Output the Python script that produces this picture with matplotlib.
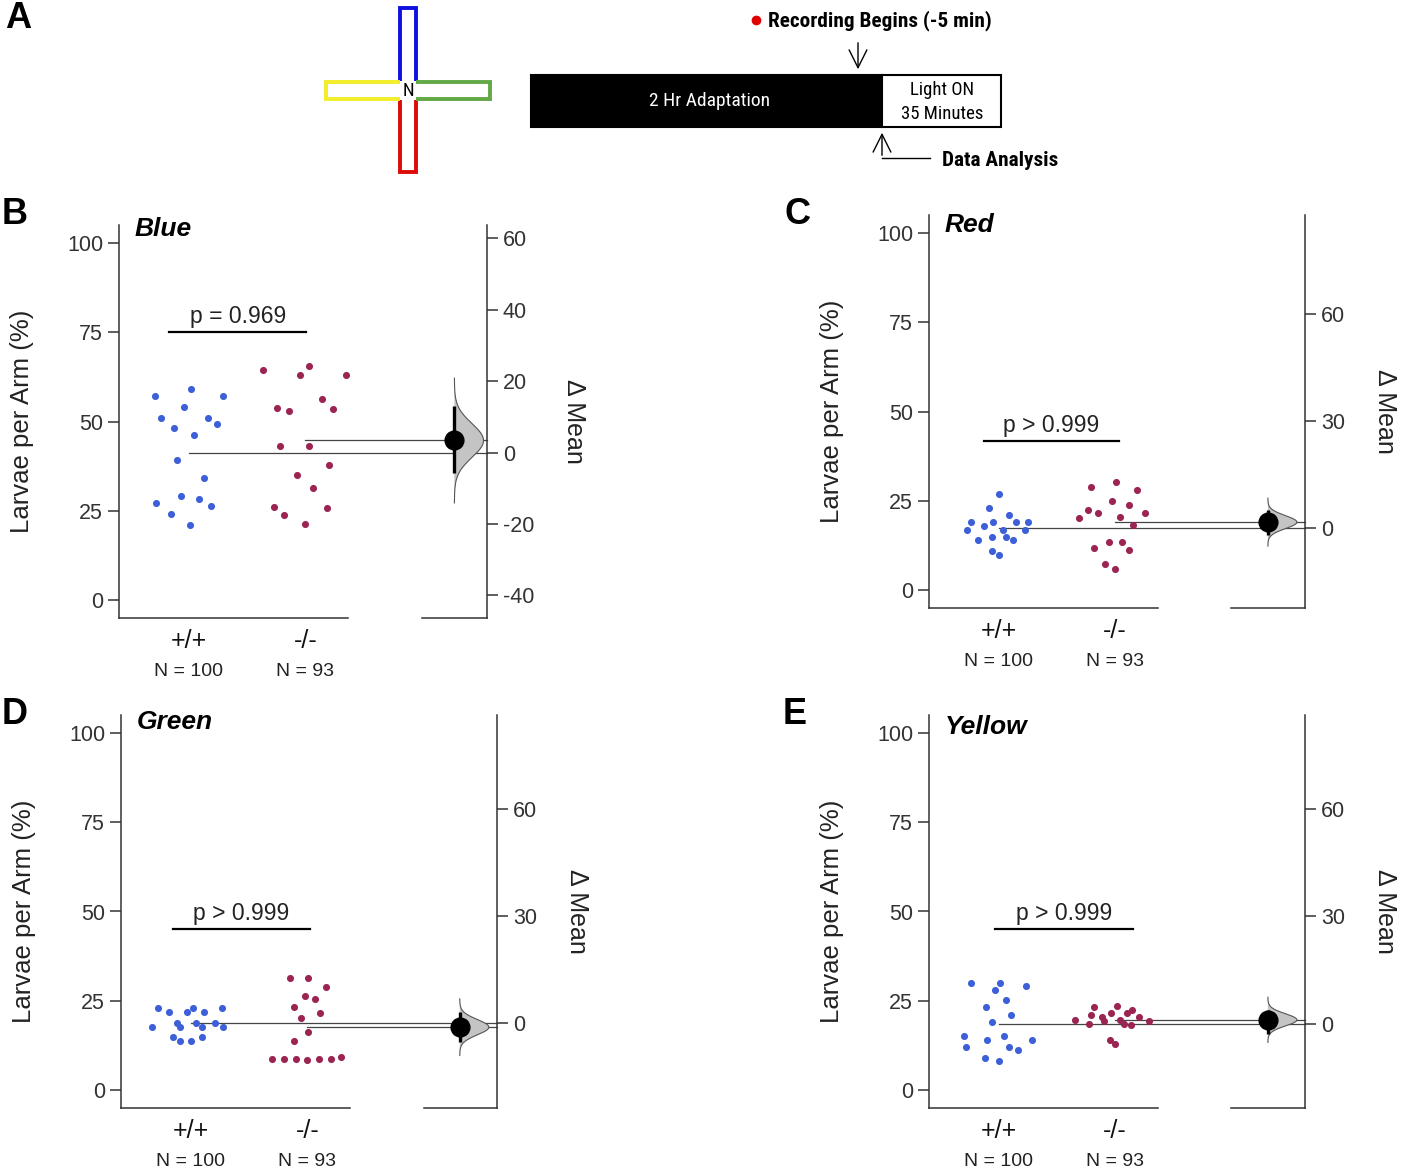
import matplotlib
matplotlib.use('Agg')
import matplotlib.pyplot as plt
import numpy as np
from matplotlib import font_manager as fm
from matplotlib.patches import Rectangle

W, H, DPI = 1404, 1174, 100

available = {f.name for f in fm.fontManager.ttflist}
SANS = 'Liberation Sans' if 'Liberation Sans' in available else 'DejaVu Sans'
NARROW = next((f for f in ['Liberation Sans Narrow', 'DejaVu Sans Condensed', 'Roboto Condensed']
               if f in available), SANS)
plt.rcParams['font.family'] = [SANS, 'DejaVu Sans']
plt.rcParams['axes.unicode_minus'] = False

# ---------------- data ----------------
groups = ['+/+', '-/-']
group_n = ['N = 100', 'N = 93']
arm_titles = ['Blue', 'Red', 'Green', 'Yellow']
p_labels = ['p = 0.969', 'p > 0.999', 'p > 0.999', 'p > 0.999']
p_bar_y = [75.0, 41.7, 45.1, 45.0]

blue_wt = [57.1, 59.0, 57.1, 54.1, 51.1, 51.1, 49.2, 48.1, 46.2, 39.1, 34.2, 29.1, 27.2, 28.2, 26.3, 24.2, 21.0]
blue_mut = [64.3, 65.4, 63.0, 63.0, 56.2, 53.8, 52.8, 53.5, 43.2, 43.2, 37.9, 35.0, 31.4, 26.1, 25.7, 23.7, 21.4]
red_wt = [27.0, 23.1, 20.9, 19.0, 19.0, 19.0, 19.0, 17.9, 16.9, 16.9, 16.9, 14.9, 14.9, 13.9, 13.9, 10.9, 9.9]
red_mut = [29.0, 30.2, 28.0, 25.0, 23.7, 22.5, 21.6, 21.6, 20.3, 20.4, 18.2, 13.5, 13.5, 11.7, 11.2, 7.2, 6.0]
green_wt = [22.9, 21.9, 21.9, 22.9, 21.9, 22.9, 17.7, 18.9, 17.7, 18.9, 17.7, 18.9, 17.7, 14.8, 13.8, 13.8, 14.8]
green_mut = [31.3, 31.5, 29.0, 26.4, 25.6, 23.2, 21.5, 20.1, 16.2, 13.7, 8.7, 8.6, 8.7, 8.4, 8.7, 8.6, 9.3]
yellow_wt = [30.1, 30.1, 28.0, 29.1, 25.1, 23.2, 21.0, 19.0, 15.1, 14.1, 15.1, 14.1, 12.1, 12.1, 11.1, 9.1, 8.1]
yellow_mut = [23.3, 23.5, 22.4, 20.9, 21.7, 21.5, 20.5, 20.6, 19.6, 19.3, 19.6, 19.4, 18.4, 18.5, 18.2, 14.1, 13.0]

# 95% CI of the mean difference (Δ Mean), per arm
delta_ci_low = [-5.6, -2.0, -5.3, -2.8]
delta_ci_high = [12.9, 5.1, 3.1, 3.9]

# right-axis ticks
right_ticks = [[-40, -20, 0, 20, 40, 60], [0, 30, 60], [0, 30, 60], [0, 30, 60]]

# horizontal swarm offsets (group units)
blue_wt_jit = [-0.29, 0.02, 0.29, -0.04, -0.24, 0.16, 0.24, -0.13, 0.04, -0.10, 0.13, -0.07, -0.28, 0.09, 0.19, -0.15, 0.01]
blue_mut_jit = [-0.36, 0.03, -0.05, 0.35, 0.14, -0.24, -0.14, 0.24, -0.22, 0.03, 0.20, -0.07, 0.07, -0.27, 0.19, -0.18, 0.00]
red_wt_jit = [0.00, -0.08, 0.09, -0.24, -0.05, 0.15, 0.25, -0.13, -0.27, 0.04, 0.23, -0.06, 0.06, -0.18, 0.12, -0.06, 0.00]
red_mut_jit = [-0.20, 0.01, 0.19, -0.02, 0.12, -0.23, -0.14, 0.26, -0.31, 0.05, 0.16, -0.05, 0.06, -0.18, 0.12, -0.08, 0.00]
green_wt_jit = [-0.28, -0.19, -0.03, 0.02, 0.11, 0.27, -0.33, -0.12, -0.09, 0.04, 0.10, 0.21, 0.28, -0.15, -0.09, 0.00, 0.10]
green_mut_jit = [-0.15, 0.01, 0.16, -0.02, 0.07, -0.11, 0.11, -0.05, 0.01, -0.11, -0.30, -0.20, -0.10, 0.00, 0.10, 0.20, 0.29]
yellow_wt_jit = [-0.24, 0.01, -0.03, 0.24, 0.06, -0.11, 0.11, -0.06, -0.30, -0.10, 0.05, 0.29, -0.28, 0.09, 0.17, -0.12, 0.00]
yellow_mut_jit = [-0.18, 0.02, 0.15, -0.20, -0.03, 0.11, -0.11, 0.21, -0.34, -0.09, 0.05, 0.30, -0.22, 0.08, 0.14, -0.04, 0.00]

# ---------------- styles / layout ----------------
WT_COLOR = '#3d5fd8'
MUT_COLOR = '#9b2453'
AX_COLOR = '#333333'
TXT_COLOR = '#333333'

fig = plt.figure(figsize=(W / DPI, H / DPI), dpi=DPI)

# overlay for panel A and panel letters (pixel coordinates)
ov = fig.add_axes([0, 0, 1, 1])
ov.set_xlim(0, W)
ov.set_ylim(H, 0)
ov.axis('off')

# ---- Panel A ----
def arm(xs, ys, color):
    ov.plot(xs, ys, color=color, lw=2.8, solid_joinstyle='miter', solid_capstyle='butt')

arm([400, 400, 416, 416], [81, 8, 8, 81], '#1010e0')        # blue (top)
arm([400, 400, 416, 416], [100, 172, 172, 100], '#dd0a0a')  # red (bottom)
arm([400, 326, 326, 400], [82, 82, 99, 99], '#f2ee2a')      # yellow (left)
arm([416, 490, 490, 416], [82, 82, 99, 99], '#62a845')      # green (right)
ov.text(408, 91, 'N', ha='center', va='center', fontsize=13.5, family=[NARROW, SANS])

ov.add_patch(Rectangle((531, 75), 351, 52, facecolor='black', edgecolor='black', lw=1.5))
ov.add_patch(Rectangle((882, 75), 119, 52, facecolor='white', edgecolor='black', lw=1.5))
ov.text(710, 101, '2 Hr Adaptation', color='white', ha='center', va='center', fontsize=14,
        family=[NARROW, SANS])
ov.text(942, 90, 'Light ON', ha='center', va='center', fontsize=13.5, family=[NARROW, SANS])
ov.text(942, 114, '35 Minutes', ha='center', va='center', fontsize=13.5, family=[NARROW, SANS])
ov.plot([756], [20], 'o', color='#e00000', ms=6)
ov.text(768, 21, 'Recording Begins (-5 min)', ha='left', va='center', fontsize=15.3,
        fontweight='bold', family=[NARROW, SANS])
ov.annotate('', xy=(858, 72), xytext=(858, 40),
            arrowprops=dict(arrowstyle='->', lw=1.0, color='black', mutation_scale=32))
ov.annotate('', xy=(882, 130), xytext=(882, 158),
            arrowprops=dict(arrowstyle='->', lw=1.0, color='black', mutation_scale=32))
ov.plot([882, 930], [158, 158], color='black', lw=1.0)
ov.text(942, 160, 'Data Analysis', ha='left', va='center', fontsize=15.3,
        fontweight='bold', family=[NARROW, SANS])

# panel letters
for letter, (lx, ly) in zip(['A', 'B', 'C', 'D', 'E'],
                            [(18, 18), (15, 215), (797, 215), (15, 715), (795, 715)]):
    fig.text(lx / W, 1 - ly / H, letter, ha='center', va='center', fontsize=26, fontweight='bold')


def px_rect(l, r, t, b):
    return [l / W, 1 - b / H, (r - l) / W, (b - t) / H]


panel_rects = [(119, 487, 225, 618), (929, 1305, 215, 608), (121, 497, 715, 1108), (929, 1305, 715, 1108)]
panel_xmax = [2.56, 2.64, 2.63, 2.64]
delta_xpos = [2.28, 2.32, 2.31, 2.32]
p_bar_x = [(-0.17, 1.01), (-0.13, 1.04), (-0.15, 1.02), (-0.03, 1.16)]
title_y = [0.99, 0.975, 0.982, 0.969]

data_wt = [blue_wt, red_wt, green_wt, yellow_wt]
data_mut = [blue_mut, red_mut, green_mut, yellow_mut]
jit_wt = [blue_wt_jit, red_wt_jit, green_wt_jit, yellow_wt_jit]
jit_mut = [blue_mut_jit, red_mut_jit, green_mut_jit, yellow_mut_jit]

YLIM = (-5, 105)
XMIN = -0.6

for i in range(4):
    ax = fig.add_axes(px_rect(*panel_rects[i]))
    ax.patch.set_alpha(0)
    xmax = panel_xmax[i]
    ax.set_xlim(XMIN, xmax)
    ax.set_ylim(*YLIM)
    wt = np.array(data_wt[i])
    mut = np.array(data_mut[i])
    wt_mean, mut_mean = wt.mean(), mut.mean()
    delta = mut_mean - wt_mean

    ax.scatter(0 + np.array(jit_wt[i]), wt, s=26, color=WT_COLOR, zorder=3, linewidths=0)
    ax.scatter(1 + np.array(jit_mut[i]), mut, s=26, color=MUT_COLOR, zorder=3, linewidths=0)

    # mean lines to delta axis
    ax.plot([0, xmax], [wt_mean, wt_mean], color='#444444', lw=0.9, zorder=2, clip_on=False)
    ax.plot([1, xmax], [mut_mean, mut_mean], color='#444444', lw=0.9, zorder=2, clip_on=False)

    # p-value bar
    bx0, bx1 = p_bar_x[i]
    ax.plot([bx0, bx1], [p_bar_y[i], p_bar_y[i]], color='black', lw=1.6)
    ax.annotate(p_labels[i], xy=((bx0 + bx1) / 2, p_bar_y[i]), xytext=(0, 11.5),
                textcoords='offset points', ha='center', va='center', fontsize=16.5, color='#222222')

    # spines
    for s in ['top', 'right']:
        ax.spines[s].set_visible(False)
    ax.spines['left'].set_color(AX_COLOR)
    ax.spines['bottom'].set_color(AX_COLOR)
    ax.spines['left'].set_linewidth(1.1)
    ax.spines['bottom'].set_linewidth(1.1)
    ax.spines['bottom'].set_bounds(XMIN, 1.37)

    ax.set_yticks([0, 25, 50, 75, 100])
    ax.tick_params(axis='y', length=8, width=1.1, color=AX_COLOR, labelsize=15.5,
                   labelcolor=TXT_COLOR, pad=3.5)
    ax.set_xticks([0, 1])
    ax.set_xticklabels(groups, fontsize=18, color='#111111')
    ax.tick_params(axis='x', length=0, pad=8)
    for j, n in enumerate(group_n):
        ax.annotate(n, xy=(j, 0), xycoords=('data', 'axes fraction'), xytext=(0, -38.5),
                    textcoords='offset points', ha='center', va='center', fontsize=14,
                    color='#222222')
    ax.set_ylabel('Larvae per Arm (%)', fontsize=18.5, labelpad=24, color='#222222')
    ax.text(0.042, title_y[i], arm_titles[i], transform=ax.transAxes, ha='left', va='center',
            fontsize=19, fontweight='bold', fontstyle='italic')

    # delta axis
    ax2 = ax.twinx()
    ax2.set_ylim(YLIM[0] - wt_mean, YLIM[1] - wt_mean)
    ax2.set_xlim(XMIN, xmax)
    for s in ['top', 'left']:
        ax2.spines[s].set_visible(False)
    ax2.spines['right'].set_color(AX_COLOR)
    ax2.spines['bottom'].set_color(AX_COLOR)
    ax2.spines['right'].set_linewidth(1.1)
    ax2.spines['bottom'].set_linewidth(1.1)
    ax2.spines['bottom'].set_bounds(2.0, xmax)
    ax2.set_yticks(right_ticks[i])
    ax2.tick_params(axis='y', length=8, width=1.1, color=AX_COLOR, labelsize=15.5,
                    labelcolor=TXT_COLOR, pad=3.5)
    ax2.set_ylabel('Δ Mean', rotation=270, fontsize=18, labelpad=20, color='#222222', va='bottom')

    lo, hi = delta_ci_low[i], delta_ci_high[i]
    sd = (hi - lo) / 3.92
    yy = np.linspace(delta - 3.7 * sd, delta + 3.7 * sd, 200)
    dens = np.exp(-0.5 * ((yy - delta) / sd) ** 2)
    dx = delta_xpos[i]
    ax2.fill_betweenx(yy, dx, dx + 0.25 * dens, facecolor='#c4c4c4', edgecolor='none', zorder=2)
    ax2.plot(dx + 0.25 * dens, yy, color='#555555', lw=0.8, zorder=2)
    ax2.plot([dx, dx], [lo, hi], color='black', lw=2.4, zorder=4, solid_capstyle='butt')
    ax2.plot([dx], [delta], 'o', color='black', ms=13.5, zorder=5)

fig.savefig('out.png', dpi=DPI)
